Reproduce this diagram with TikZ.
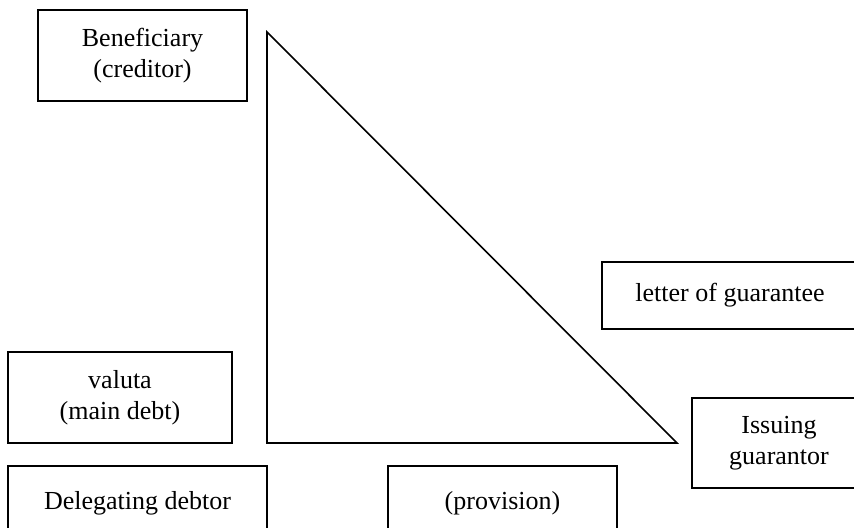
\documentclass[tikz,border=0pt]{standalone}
\usepackage{fontspec}
\setmainfont{Liberation Serif}
\begin{document}
\begin{tikzpicture}[x=0.5pt,y=-0.5pt,
    party/.style={draw,line width=0.8pt,align=center,inner sep=0pt,
      font=\fontsize{13}{15.5}\selectfont}]
    \useasboundingbox (0,0) rectangle (854,528);
    \clip (0,0) rectangle (854,528);
    \node[party,minimum width=104.5pt,minimum height=45.5pt] (benef) at (142.5,55.5) {Beneficiary\\(creditor)};
    \node[party,minimum width=112pt,minimum height=45.5pt] (valuta) at (120,397.5) {valuta\\(main debt)};
    \node[party,minimum width=129.5pt,minimum height=37pt] (debtor) at (137.5,503) {Delegating debtor};
    \node[party,minimum width=114.5pt,minimum height=37pt] (prov) at (502.5,503) {(provision)};
    \node[party,minimum width=128pt,minimum height=33.5pt] (letter) at (730,295.5) {letter of guarantee};
    \node[party,minimum width=87pt,minimum height=45pt] (issuer) at (779,443) {Issuing\\guarantor};
    \coordinate (top) at (267,32);
    \coordinate (corner) at (267,443);
    \coordinate (tip) at (677,443);
    \draw[line width=0.8pt] (top) -- (corner) -- (tip) -- cycle;
  \end{tikzpicture}
\end{document}
